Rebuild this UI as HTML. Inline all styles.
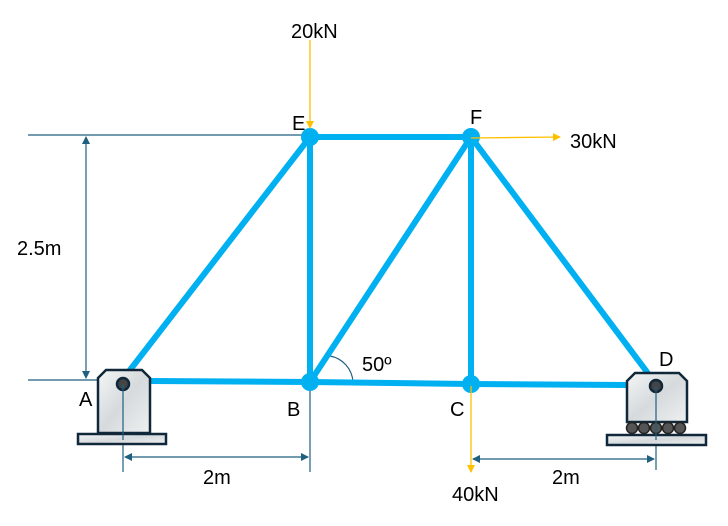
<!DOCTYPE html>
<html><head><meta charset="utf-8"><style>
body{margin:0;background:#fff}
svg{display:block;font-family:"Liberation Sans",sans-serif}
</style></head><body>
<svg width="728" height="526" viewBox="0 0 728 526">
<defs>
<marker id="ad" markerWidth="8" markerHeight="8" refX="7" refY="4" orient="auto-start-reverse" markerUnits="userSpaceOnUse"><path d="M0,0 L8,4 L0,8z" fill="#1f5f7f"/></marker>
<marker id="ao" markerWidth="8" markerHeight="8" refX="7" refY="4" orient="auto" markerUnits="userSpaceOnUse"><path d="M0,0 L8,4 L0,8z" fill="#ffc000"/></marker>
<linearGradient id="mar" x1="0" y1="0" x2="1" y2="1"><stop offset="0" stop-color="#f4f6f7"/><stop offset=".5" stop-color="#d6dadc"/><stop offset="1" stop-color="#eef0f1"/></linearGradient>
</defs>
<g stroke="#1f5f7f" stroke-width="1.2" fill="none">
<line x1="28" y1="135" x2="305" y2="135"/>
<line x1="28" y1="380" x2="98" y2="380"/>
<line x1="86" y1="137" x2="86" y2="378" marker-start="url(#ad)" marker-end="url(#ad)"/>
<line x1="123" y1="384" x2="123" y2="472"/>
<line x1="310" y1="390" x2="310" y2="472"/>
<line x1="125" y1="457" x2="308" y2="457" marker-start="url(#ad)" marker-end="url(#ad)"/>
<line x1="656" y1="386" x2="656" y2="470"/>
<line x1="473" y1="459" x2="654" y2="459" marker-start="url(#ad)" marker-end="url(#ad)"/>
<path d="M330,356 A28,28 0 0 1 353,382"/>
</g>
<g stroke="#00b0f0" stroke-width="6" stroke-linecap="round">
<line x1="130" y1="370" x2="310" y2="137"/>
<line x1="150" y1="381" x2="310" y2="382"/>
<line x1="310" y1="382" x2="471" y2="384"/>
<line x1="471" y1="384" x2="627" y2="385"/>
<line x1="310" y1="137" x2="471" y2="137"/>
<line x1="310" y1="137" x2="310" y2="382"/>
<line x1="471" y1="137" x2="471" y2="384"/>
<line x1="310" y1="382" x2="471" y2="137"/>
<line x1="471" y1="137" x2="647" y2="372"/>
</g>
<g fill="#00b0f0">
<circle cx="310" cy="137" r="9"/><circle cx="471" cy="137" r="9"/>
<circle cx="310" cy="382" r="9"/><circle cx="471" cy="384" r="9"/>
</g>
<g stroke="#10283a" stroke-width="2.5" fill="url(#mar)">
<path d="M106,370 L142,370 L150,378 L150,433 L98,433 L98,378 Z"/>
<rect x="78" y="434" width="88" height="10"/>
<circle cx="123" cy="384" r="6" fill="#444" stroke="#10283a"/>
</g>
<g stroke="#10283a" stroke-width="2.5" fill="url(#mar)">
<path d="M635,373 L679,373 L687,381 L687,422 L627,422 L627,381 Z"/>
<rect x="607" y="435" width="99" height="10"/>
<g fill="#555" stroke="#222" stroke-width="1.5">
<circle cx="632" cy="428" r="5.5"/><circle cx="644" cy="428" r="5.5"/><circle cx="656" cy="428" r="5.5"/><circle cx="668" cy="428" r="5.5"/><circle cx="680" cy="428" r="5.5"/></g>
<circle cx="656" cy="386" r="6" fill="#444" stroke="#10283a"/>
</g>
<g stroke="#1f5f7f" stroke-width="1.2"><line x1="123" y1="384" x2="123" y2="440"/><line x1="656" y1="386" x2="656" y2="440"/></g>
<g stroke="#ffc000" stroke-width="1.3">
<line x1="310" y1="40" x2="310" y2="128" marker-end="url(#ao)"/>
<line x1="471" y1="138" x2="560" y2="137" marker-end="url(#ao)"/>
<line x1="471" y1="386" x2="471" y2="472" marker-end="url(#ao)"/>
</g>
<g font-size="20" fill="#000">
<text x="291" y="38">20kN</text>
<text x="570" y="148">30kN</text>
<text x="452" y="501">40kN</text>
<text x="17" y="255">2.5m</text>
<text x="203" y="484">2m</text>
<text x="552" y="484">2m</text>
<text x="362" y="371">50º</text>
<text x="292" y="130">E</text>
<text x="470" y="124">F</text>
<text x="79" y="406">A</text>
<text x="287" y="416">B</text>
<text x="450" y="416">C</text>
<text x="659" y="366">D</text>
</g>
</svg>
</body></html>
